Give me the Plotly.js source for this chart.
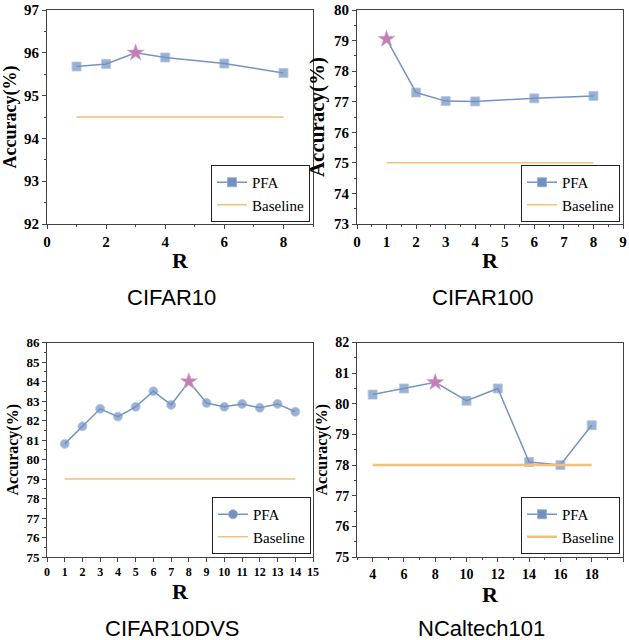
<!DOCTYPE html>
<html>
<head>
<meta charset="utf-8">
<script src="https://cdn.plot.ly/plotly-3.0.1.min.js"></script>
<style>
html,body{margin:0;padding:0;background:#fff;}
#chart{width:629px;height:640px;}
.legend3 text.legendtext{letter-spacing:2.2px;}
</style>
</head>
<body>
<div id="chart"></div>
<script>
// ---- data ----
var titles = ["CIFAR10", "CIFAR100", "CIFAR10DVS", "NCaltech101"];
var r1 = [1, 2, 3, 4, 6, 8];
var acc1 = [95.68, 95.74, 96.0, 95.89, 95.75, 95.53];
var base1 = 94.5;
var r2 = [1, 2, 3, 4, 6, 8];
var acc2 = [79.05, 77.3, 77.02, 77.01, 77.11, 77.19];
var base2 = 75;
var r3 = [1, 2, 3, 4, 5, 6, 7, 8, 9, 10, 11, 12, 13, 14];
var acc3 = [80.8, 81.7, 82.6, 82.2, 82.7, 83.5, 82.8, 84.0, 82.9, 82.7, 82.85, 82.65, 82.85, 82.45];
var base3 = 79;
var r4 = [4, 6, 8, 10, 12, 14, 16, 18];
var acc4 = [80.3, 80.5, 80.7, 80.1, 80.5, 78.1, 78.0, 79.3];
var base4 = 78;

var panels = [
  {r: r1, acc: acc1, base: base1, sym: 'square', msize: 9, bw: 1.5},
  {r: r2, acc: acc2, base: base2, sym: 'square', msize: 9, bw: 1.5},
  {r: r3, acc: acc3, base: base3, sym: 'circle', msize: 9, bw: 1.5},
  {r: r4, acc: acc4, base: base4, sym: 'square', msize: 9, bw: 2.5}
];

var lineCol = '#7493c3';
var markCol = '#7291c1';
var markEdge = '#93acd4';
var starCol = '#c27fb4';
var baseCol = '#f1c07d';

var traces = [];
panels.forEach(function (p, i) {
  var ax = i === 0 ? '' : String(i + 1);
  var leg = i === 0 ? 'legend' : 'legend' + (i + 1);
  var best = p.acc.indexOf(Math.max.apply(null, p.acc));
  var sizes = p.acc.map(function (v, k) { return k === best ? 0 : p.msize; });
  traces.push({
    x: p.r, y: p.acc, xaxis: 'x' + ax, yaxis: 'y' + ax, mode: 'lines+markers',
    line: {color: lineCol, width: 1.5},
    marker: {symbol: p.sym, size: sizes, color: markCol, line: {color: markEdge, width: 0.8}},
    showlegend: false, hoverinfo: 'x+y'
  });
  traces.push({
    x: [p.r[best]], y: [p.acc[best]], xaxis: 'x' + ax, yaxis: 'y' + ax, mode: 'markers',
    marker: {symbol: 'star', size: 13, color: starCol, line: {color: '#d9a9cc', width: 0.5}},
    showlegend: false
  });
  traces.push({
    x: [p.r[0], p.r[p.r.length - 1]], y: [p.base, p.base], xaxis: 'x' + ax, yaxis: 'y' + ax,
    mode: 'lines', line: {color: baseCol, width: p.bw}, showlegend: false
  });
  // legend entries
  traces.push({
    x: [null], y: [null], xaxis: 'x' + ax, yaxis: 'y' + ax, name: 'PFA', mode: 'lines+markers',
    line: {color: lineCol, width: 1.5},
    marker: {symbol: p.sym, size: p.msize, color: markCol, line: {color: markEdge, width: 0.8}},
    legend: leg
  });
  traces.push({
    x: [null], y: [null], xaxis: 'x' + ax, yaxis: 'y' + ax, name: 'Baseline', mode: 'lines',
    line: {color: baseCol, width: p.bw}, legend: leg
  });
});

var serif = 'Liberation Serif, Times New Roman, serif';
var sans = 'Liberation Sans, Arial, Helvetica, sans-serif';
var frame = '#444';

function xax(dom, anchor, range, dtick, minorD, fs) {
  return {
    domain: dom, anchor: anchor, range: range, dtick: dtick, tick0: 0,
    showgrid: false, zeroline: false, showline: true, linecolor: frame, linewidth: 1, mirror: true,
    ticks: 'outside', ticklen: 4, tickwidth: 1, tickcolor: frame,
    minor: minorD ? {dtick: minorD, ticks: 'outside', ticklen: 2, tickcolor: frame, showgrid: false} : undefined,
    tickfont: {family: serif, size: fs, color: '#000', weight: 'bold'},
    title: {text: 'R', font: {family: serif, size: 22, color: '#000', weight: 'bold'}, standoff: 3}
  };
}
function yax(dom, anchor, range, fs, tfs, standoff) {
  return {
    domain: dom, anchor: anchor, range: range, dtick: 1,
    showgrid: false, zeroline: false, showline: true, linecolor: frame, linewidth: 1, mirror: true,
    ticks: 'outside', ticklen: 4, tickwidth: 1, tickcolor: frame,
    minor: {dtick: 0.5, ticks: 'outside', ticklen: 2, tickcolor: frame, showgrid: false},
    tickfont: {family: serif, size: fs, color: '#000', weight: 'bold'},
    title: {text: 'Accuracy(%)', font: {family: serif, size: tfs, color: '#000', weight: 'bold'}, standoff: standoff}
  };
}

var dxL = [47 / 629, 313 / 629], dxR = [357 / 629, 623 / 629];
var dyT = [1 - 224 / 640, 1 - 10 / 640], dyB = [1 - 557 / 640, 1 - 342.5 / 640];

function legendAt(x, y) {
  return {
    x: x, y: y, xanchor: 'right', yanchor: 'bottom', xref: 'paper', yref: 'paper',
    bgcolor: 'rgba(255,255,255,1)', bordercolor: '#222', borderwidth: 1,
    font: {family: serif, size: 15, color: '#000'}, tracegroupgap: 0,
    itemwidth: 30
  };
}

var layout = {
  width: 629, height: 640,
  margin: {l: 0, r: 0, t: 0, b: 0},
  paper_bgcolor: '#fff', plot_bgcolor: '#fff',
  showlegend: true,
  xaxis: xax(dxL, 'y', [0, 9], 2, 1, 15),
  yaxis: yax(dyT, 'x', [92, 97], 15, 18, 3),
  xaxis2: xax(dxR, 'y2', [0, 9], 1, 0.5, 15),
  yaxis2: yax(dyT, 'x2', [73, 80], 15, 21, 3),
  xaxis3: xax(dxL, 'y3', [0, 15], 1, null, 12),
  yaxis3: yax(dyB, 'x3', [75, 86], 13, 16, 3),
  xaxis4: xax(dxR, 'y4', [3, 20], 2, 1, 14),
  yaxis4: yax(dyB, 'x4', [75, 82], 14, 16, 3),
  legend: legendAt(310 / 629, 1 - 222 / 640),
  legend2: legendAt(620 / 629, 1 - 222 / 640),
  legend3: legendAt(311 / 629, 1 - 554 / 640),
  legend4: legendAt(620 / 629, 1 - 554 / 640),
  annotations: [
    {text: titles[0], x: 171 / 629, y: 1 - 297 / 640},
    {text: titles[1], x: 483 / 629, y: 1 - 297 / 640},
    {text: titles[2], x: 172 / 629, y: 1 - 628 / 640},
    {text: titles[3], x: 482 / 629, y: 1 - 628 / 640}
  ].map(function (a) {
    return {text: a.text, x: a.x, y: a.y, xref: 'paper', yref: 'paper', xanchor: 'center', yanchor: 'middle',
      showarrow: false, font: {family: sans, size: 22, color: '#000'}};
  })
};

Plotly.newPlot('chart', traces, layout, {displayModeBar: false, staticPlot: true});
</script>
</body>
</html>
